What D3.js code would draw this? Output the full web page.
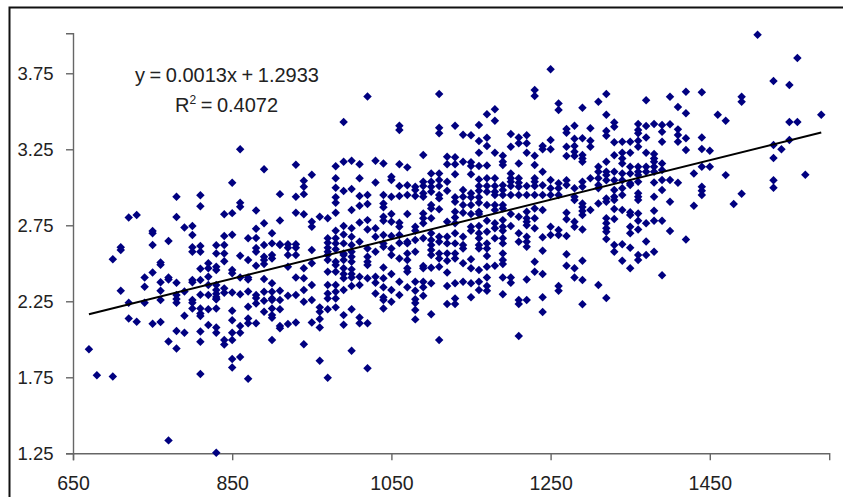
<!DOCTYPE html>
<html>
<head>
<meta charset="utf-8">
<script src="https://cdn.jsdelivr.net/npm/d3@7"></script>
<style>
    html,body{margin:0;padding:0;background:#fff;overflow:hidden;}
    text{font-family:"Liberation Sans",Arial,sans-serif;fill:#222;}
</style>
</head>
<body>
<div id="canvas"></div>
<script>
// tick labels
var xTicks = [650,850,1050,1250,1450];
var yTicks = [1.25,1.75,2.25,2.75,3.25,3.75];

// trendline from the chart's own equation
var slope = 0.0013, intercept = 1.2933;
var trendRange = [670,1590];

// scores sit on multiples of 10, one gpa list per score
var scores = [670,680,700,710,720,730,740,750,760,770,780,790,800,810,820,830,840,850,860,870,880,890,900,910,920,930,940,950,960,970,980,990,1000,1010,1020,1030,1040,1050,1060,1070,1080,1090,1100,1110,1120,1130,1140,1150,1160,1170,1180,1190,1200,1210,1220,1230,1240,1250,1260,1270,1280,1290,1300,1310,1320,1330,1340,1350,1360,1370,1380,1390,1400,1410,1420,1430,1440,1450,1460,1470,1480,1490,1510,1530,1540,1550,1560,1570,1590];
var gpas = [
    [1.935],
    [1.764],
    [2.526,1.756],
    [2.605,2.587,2.319],
    [2.802,2.24,2.137],
    [2.817,2.115],
    [2.407,2.345,2.24],
    [2.712,2.697,2.62,2.44,2.102],
    [2.506,2.49,2.375,2.319,2.258,2.113],
    [2.646,2.407,2.394,1.986,1.335],
    [2.938,2.804,2.372,2.291,2.265,2.24,2.054,1.94],
    [2.736,2.315,2.155,2.043],
    [2.745,2.686,2.605,2.576,2.39,2.376,2.258,2.24,2.203],
    [2.947,2.876,2.613,2.576,2.464,2.39,2.293,2.203,2.17,2.153,2.052,1.984,1.771],
    [2.5,2.467,2.411,2.357,2.291,2.197,2.094],
    [2.618,2.565,2.477,2.456,2.357,2.324,2.3,2.278,2.265,2.263,2.203,2.078,2.043,1.253],
    [2.822,2.679,2.62,2.565,2.514,2.335,2.306,1.995,1.966],
    [3.03,2.83,2.688,2.456,2.434,2.308,2.188,2.126,2.043,1.995,1.87,1.815],
    [3.25,2.898,2.872,2.55,2.407,2.297,2.087,2.043,1.883],
    [2.664,2.521,2.407,2.394,2.315,2.214,2.137,2.105,1.74],
    [2.848,2.727,2.666,2.6,2.576,2.484,2.291,2.271,2.236,2.105],
    [3.118,2.763,2.62,2.543,2.521,2.495,2.396,2.313,2.253,2.181],
    [2.697,2.631,2.554,2.532,2.368,2.313,2.269,2.258,2.203,2.159,2.142,1.995],
    [2.955,2.782,2.626,2.62,2.319,2.258,2.197,2.087,2.072],
    [2.625,2.602,2.554,2.477,2.286,2.1],
    [3.148,2.938,2.832,2.625,2.602,2.554,2.407,2.291,2.111],
    [3.043,3.004,2.955,2.822,2.467,2.401,2.324,2.247,1.968],
    [3.083,2.773,2.74,2.587,2.5,2.357,2.258,2.111],
    [2.806,2.21,2.181,2.133,2.078,1.859],
    [2.796,2.664,2.635,2.602,2.576,2.554,2.521,2.444,2.357,2.302,2.269,2.197,1.747],
    [3.138,3.059,2.997,2.934,2.898,2.832,2.714,2.664,2.631,2.592,2.51,2.488,2.444,2.357,2.313,2.269,2.21],
    [3.429,3.168,2.975,2.745,2.69,2.631,2.565,2.554,2.521,2.467,2.429,2.401,2.324,2.159,2.095],
    [3.175,2.988,2.85,2.73,2.674,2.62,2.576,2.543,2.51,2.46,2.429,2.407,2.35,2.197,1.924],
    [3.151,3.059,2.942,2.879,2.769,2.642,2.411,2.357,2.144,2.105],
    [3.598,2.949,2.89,2.784,2.723,2.598,2.543,2.51,2.488,2.401,2.105,1.809],
    [3.175,3.032,2.73,2.674,2.576,2.411,2.372,2.302],
    [3.157,2.949,2.894,2.868,2.806,2.78,2.686,2.631,2.609,2.473,2.401,2.342,2.276,2.258,2.203],
    [3.07,3.048,2.938,2.824,2.773,2.679,2.598,2.554,2.429,2.324,2.247],
    [3.405,3.377,3.151,3.008,2.942,2.767,2.74,2.686,2.633,2.532,2.379,2.291],
    [3.131,3.013,2.949,2.824,2.642,2.631,2.565,2.521,2.467,2.444,2.342],
    [3.004,2.982,2.942,2.74,2.714,2.653,2.576,2.379,2.319,2.264,2.238,2.192,2.131],
    [3.212,3.036,3.008,2.96,2.938,2.828,2.796,2.763,2.664,2.482,2.467,2.379,2.342,2.286],
    [3.091,3.036,3.004,2.971,2.883,2.861,2.796,2.697,2.653,2.62,2.587,2.554,2.47,2.368,2.164],
    [3.613,3.392,3.355,3.091,3.048,3.008,2.949,2.927,2.855,2.674,2.642,2.565,2.532,2.477,1.995],
    [3.201,3.152,3.036,2.977,2.773,2.674,2.631,2.565,2.517,2.44,2.35,2.232],
    [3.405,3.197,3.152,3.085,2.934,2.905,2.839,2.802,2.763,2.697,2.631,2.565,2.532,2.368,2.269,2.232],
    [3.346,3.168,2.982,2.938,2.883,2.832,2.674,2.62,2.598,2.5,2.379],
    [3.342,3.164,3.14,3.085,2.96,2.934,2.883,2.824,2.74,2.714,2.526,2.467,2.368,2.276],
    [3.41,3.304,3.227,3.14,3.052,3.008,2.977,2.934,2.898,2.839,2.824,2.745,2.697,2.664,2.62,2.598,2.456,2.379,2.324],
    [3.48,3.326,3.271,3.144,3.059,3.008,2.971,2.883,2.78,2.707,2.631,2.598,2.548,2.477,2.407,2.35,2.319],
    [3.513,3.438,3.227,3.059,3.008,2.971,2.949,2.883,2.85,2.763,2.73,2.664,2.484],
    [3.207,3.168,3.146,3.013,2.982,2.949,2.883,2.861,2.784,2.74,2.714,2.664,2.631,2.565,2.521,2.495,2.407,2.297],
    [3.35,3.267,3.091,3.059,3.036,3.008,2.949,2.824,2.745,2.407,2.372],
    [3.328,3.289,3.157,3.059,3.03,3.004,2.949,2.806,2.697,2.642,2.258,2.232,2.021],
    [3.342,3.289,3.227,3.008,2.949,2.839,2.796,2.773,2.75,2.674,2.642,2.609,2.394,2.258],
    [3.64,3.6,3.207,3.146,3.059,3.036,3.008,2.949,2.861,2.796,2.73,2.51,2.444],
    [3.271,3.25,3.102,3.013,2.949,2.85,2.671,2.582,2.429,2.276,2.179],
    [3.776,3.311,3.25,3.048,2.993,2.949,2.74,2.686],
    [3.552,3.508,3.026,2.993,2.949,2.719,2.686,2.35,2.319],
    [3.383,3.359,3.267,3.206,3.047,3.015,2.832,2.789,2.679,2.559,2.484],
    [3.405,3.319,3.271,3.234,3.206,2.993,2.938,2.916,2.773,2.74,2.467,2.407],
    [3.523,3.322,3.212,3.19,3.168,3.036,3.004,2.894,2.87,2.844,2.817,2.723,2.517,2.39,2.23],
    [3.388,3.306,3.267,3.059,2.85],
    [3.563,3.135,3.102,3.059,3.015,2.993,2.894,2.357],
    [3.613,3.477,3.37,3.339,3.168,3.102,3.08,3.047,2.927,2.905,2.796,2.763,2.73,2.707,2.659,2.271],
    [3.427,3.398,3.296,3.21,3.102,3.047,2.982,2.938,2.916,2.857,2.791,2.62,2.576],
    [3.3,3.227,3.19,3.157,3.091,3.047,2.993,2.949,2.85,2.625,2.517],
    [3.3,3.227,3.135,3.091,3.026,3.015,2.836,2.817,2.74,2.697,2.602,2.467],
    [3.416,3.377,3.355,3.306,3.267,3.135,3.102,3.08,3.036,2.96,2.938,2.916,2.828,2.78,2.723,2.554,2.521],
    [3.572,3.403,3.328,3.227,3.135,3.102,2.763,2.644,2.554],
    [3.416,3.219,3.19,3.168,3.135,3.102,3.032,2.938,2.846,2.78,2.576],
    [3.41,3.365,3.3,3.157,3.113,3.048,2.982,2.78,2.422],
    [3.596,3.414,3.048,2.905,2.712],
    [3.528,3.381,3.344,3.3,3.03],
    [3.629,3.487,3.322,3.245,2.657],
    [3.091,2.879],
    [3.625,3.328,3.252,3.135,3.004,2.977,2.949],
    [3.24,3.135],
    [3.477],
    [3.438,3.08],
    [2.89],
    [3.596,3.563,2.957],
    [4.004],
    [3.699,3.278,3.192,3.047,2.997],
    [3.25],
    [3.673,3.429,3.311],
    [3.85,3.429],
    [3.083],
    [3.477]
];

var w = 843, h = 497;

var svg = d3.select('#canvas')
    .append('svg')
    .attr('width', w)
    .attr('height', h)
    .style('display','block');

// frame of the pasted picture
svg.append('path')
    .attr('d','M9.5,497V7.5H843')
    .attr('fill','none')
    .attr('stroke','#111')
    .attr('stroke-width',2);

var scaleX = d3.scaleLinear().domain([650,1600]).range([73,829.2]);
var scaleY = d3.scaleLinear().domain([1.25,4.013]).range([453.3,33.3]);

var axisX = d3.axisBottom(scaleX)
    .tickValues(xTicks)
    .tickFormat(d3.format('d'))
    .tickSizeOuter(0)
    .tickSize(7)
    .tickPadding(16);
var axisY = d3.axisLeft(scaleY)
    .tickValues(yTicks)
    .tickFormat(d3.format('.2f'))
    .tickSizeOuter(0)
    .tickSize(7)
    .tickPadding(12.5);

var gx = svg.append('g').attr('transform','translate(0,453.3)').call(axisX);
var gy = svg.append('g').attr('transform','translate(73,0)').call(axisY);

gx.selectAll('text').style('font-size','19.5px');
gy.selectAll('text').style('font-size','18.5px').attr('dy','0.35em');
svg.selectAll('.domain, .tick line').attr('stroke','#666').attr('stroke-width',1.4);

// flatten column lists into points
var points = d3.merge(scores.map(function(s,i){
    return gpas[i].map(function(g){ return {score:s, gpa:g}; });
}));

var diamond = d3.symbol().type(d3.symbolSquare).size(36);

svg.append('g').selectAll('path')
    .data(points)
    .enter()
    .append('path')
    .attr('class','point')
    .attr('d', diamond)
    .attr('fill','#000080')
    .attr('transform', function(d){
        return 'translate('+scaleX(d.score)+','+scaleY(d.gpa)+') rotate(45)';
    });

var trend = d3.line()
    .x(function(d){ return scaleX(d); })
    .y(function(d){ return scaleY(slope*d+intercept); });

svg.append('path')
    .datum(trendRange)
    .attr('d', trend)
    .attr('fill','none')
    .attr('stroke','#000')
    .attr('stroke-width',2);

var eq = svg.append('text').attr('x',135).attr('y',82).style('font-size','20px').style('word-spacing','-1px');
eq.text('y = 0.0013x + 1.2933');

var r2 = svg.append('text').attr('x',175).attr('y',112).style('font-size','20px').style('word-spacing','-1px');
r2.append('tspan').text('R');
r2.append('tspan').attr('dy',-8).style('font-size','12px').text('2');
r2.append('tspan').attr('dy',8).text(' = 0.4072');
</script>
</body>
</html>
